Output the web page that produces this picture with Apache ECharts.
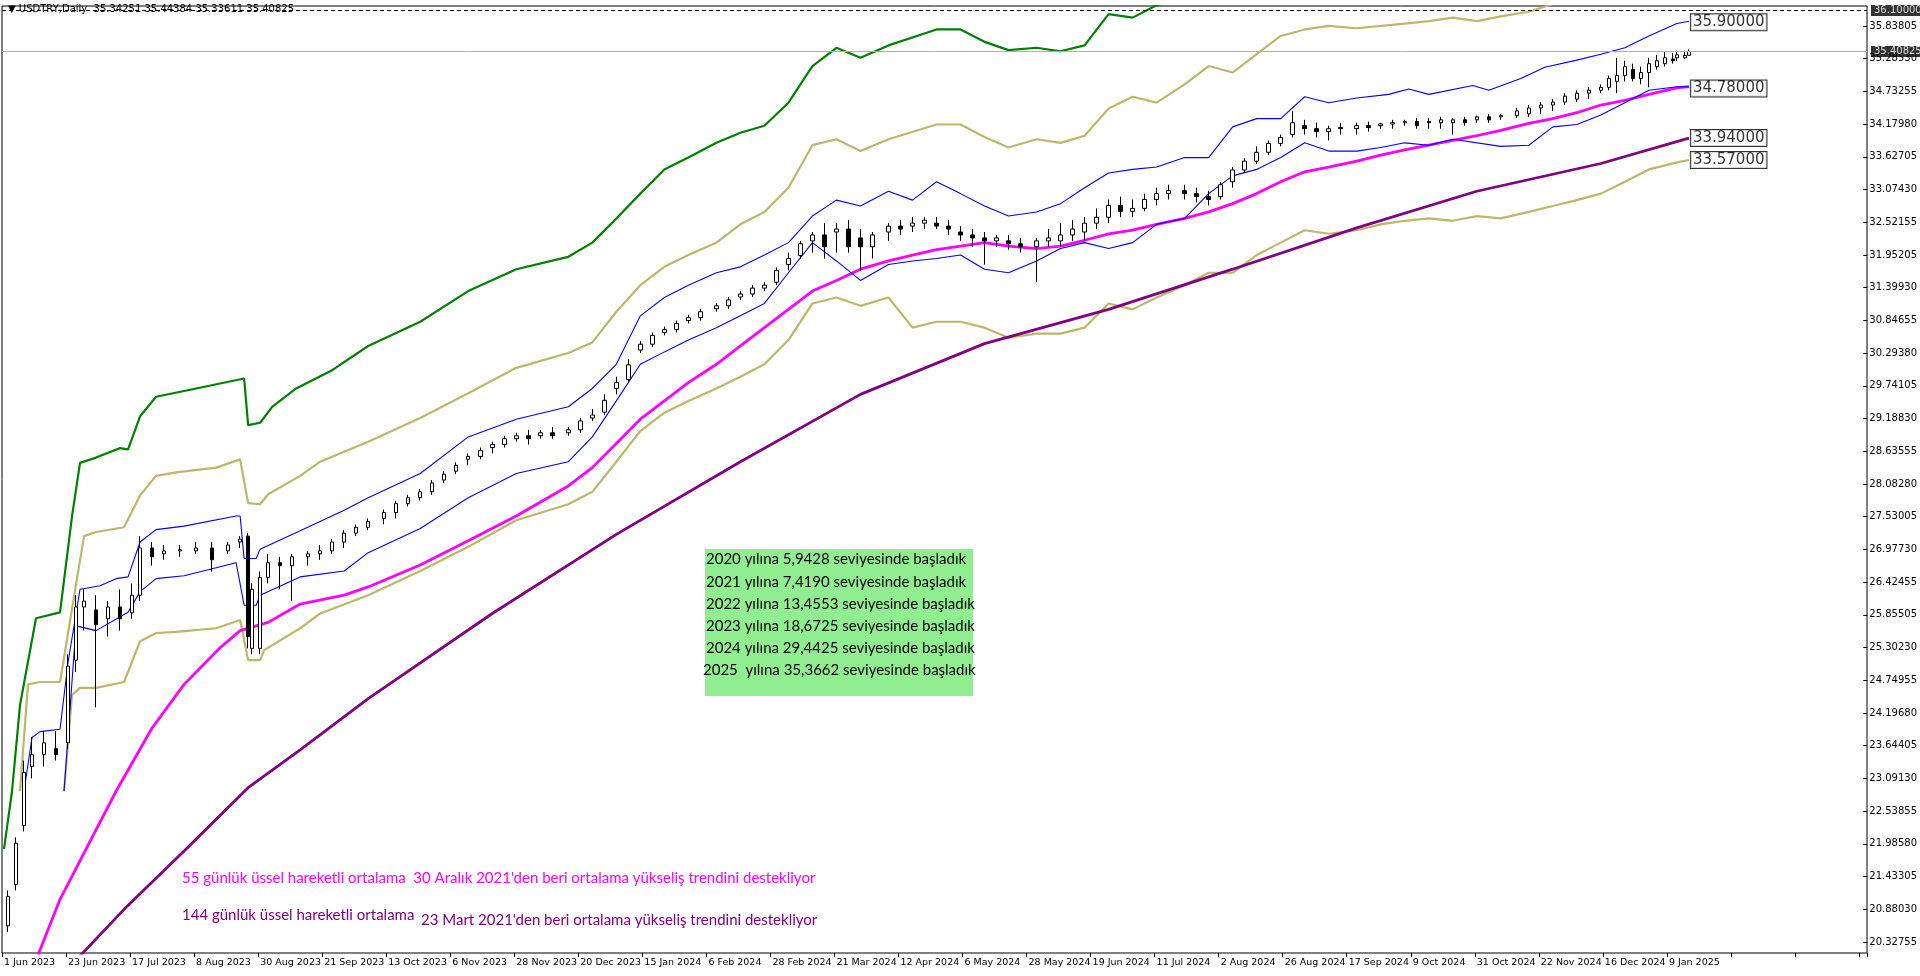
<!DOCTYPE html>
<html><head><meta charset="utf-8">
<script src="https://cdn.jsdelivr.net/npm/echarts@6/dist/echarts.min.js"></script>
<style>html,body{margin:0;padding:0;background:#fff}#c{width:1920px;height:976px}</style>
</head><body><div id="c"></div>
<script>
const xLabels=['1 Jun 2023','23 Jun 2023','17 Jul 2023','8 Aug 2023','30 Aug 2023','21 Sep 2023','13 Oct 2023','6 Nov 2023','28 Nov 2023','20 Dec 2023','15 Jan 2024','6 Feb 2024','28 Feb 2024','21 Mar 2024','12 Apr 2024','6 May 2024','28 May 2024','19 Jun 2024','11 Jul 2024','2 Aug 2024','26 Aug 2024','17 Sep 2024','9 Oct 2024','31 Oct 2024','22 Nov 2024','16 Dec 2024','9 Jan 2025'];
const yTickLabels=['20.32755','20.88030','21.43305','21.98580','22.53855','23.09130','23.64405','24.19680','24.74955','25.30230','25.85505','26.42455','26.97730','27.53005','28.08280','28.63555','29.18830','29.74105','30.29380','30.84655','31.39930','31.95205','32.52155','33.07430','33.62705','34.17980','34.73255','35.28530','35.83805'];
const nBars=466;
// candles: index, open, high, low, close
const candles=[
[1,20.6,21.2,20.5,21.1],[3,21.3,22.1,21.2,22.0],[5,22.3,23.4,22.2,23.2],[7,23.3,23.8,23.1,23.5],[10,23.5,23.9,23.3,23.7],[13,23.6,23.9,23.4,23.5],
[16,23.7,25.2,23.6,25.0],[18,25.1,26.2,24.9,26.0],[20,26.0,26.3,25.6,26.1],[23,25.95,26.2,24.3,25.7],[26,25.8,26.1,25.5,26.0],[29,26.0,26.3,25.6,25.8],
[32,25.9,26.4,25.8,26.2],[34,26.2,27.2,26.1,27.0],[37,27.0,27.1,26.7,26.85],[40,26.9,27.05,26.8,26.95],[44,26.95,27.05,26.85,26.97],[48,26.95,27.1,26.9,27.0],
[52,27.0,27.1,26.6,26.8],[56,26.95,27.1,26.9,27.05],[59,27.1,27.2,27.0,27.15],[61,27.2,27.25,25.3,25.5],[62,25.3,26.4,25.2,26.3],[64,25.3,26.6,25.2,26.5],
[66,26.5,26.9,26.4,26.75],[69,26.75,26.85,26.3,26.7],[72,26.7,26.9,26.1,26.85],[76,26.85,26.95,26.7,26.9],[79,26.9,27.05,26.8,26.95],[82,26.95,27.15,26.9,27.1],[85,27.1,27.3,27.0,27.25],
[88,27.25,27.4,27.2,27.35],[91,27.35,27.5,27.3,27.45],[95,27.5,27.65,27.4,27.6],[98,27.6,27.8,27.5,27.75],[101,27.75,27.9,27.7,27.85],[104,27.85,28.0,27.8,27.95],[107,27.95,28.15,27.9,28.1],[110,28.15,28.3,28.1,28.25],[113,28.3,28.45,28.25,28.4],[116,28.5,28.6,28.4,28.55],[119,28.55,28.7,28.5,28.65],[122,28.7,28.8,28.6,28.75],
[125,28.75,28.9,28.7,28.85],[128,28.85,28.95,28.8,28.9],[131,28.9,29.0,28.75,28.85],[134,28.9,29.0,28.85,28.95],[137,28.95,29.05,28.85,28.9],[141,28.95,29.05,28.9,29.0],[144,29.0,29.2,28.95,29.15],[147,29.2,29.35,29.15,29.25],[150,29.3,29.6,29.25,29.5],[153,29.7,29.9,29.6,29.8],[156,29.85,30.2,29.8,30.1],[159,30.35,30.5,30.3,30.45],
[162,30.45,30.65,30.4,30.6],[165,30.65,30.75,30.6,30.7],[168,30.7,30.85,30.65,30.8],[171,30.85,30.95,30.8,30.9],[174,30.9,31.05,30.85,31.0],[178,31.05,31.15,31.0,31.1],[181,31.1,31.25,31.05,31.2],[184,31.25,31.35,31.2,31.3],[187,31.3,31.45,31.25,31.4],[190,31.4,31.5,31.35,31.45],[193,31.5,31.75,31.45,31.7],[196,31.8,32.0,31.7,31.9],[199,31.95,32.2,31.9,32.15],
[202,32.2,32.35,32.0,32.3],[205,32.3,32.5,31.9,32.1],[208,32.35,32.5,32.0,32.4],[211,32.4,32.55,32.0,32.1],[214,32.25,32.4,31.7,32.1],[217,32.1,32.35,31.9,32.3],[221,32.35,32.5,32.2,32.45],
[224,32.45,32.55,32.3,32.4],[227,32.45,32.6,32.35,32.5],[230,32.5,32.6,32.4,32.55],[233,32.5,32.6,32.4,32.45],[236,32.45,32.55,32.3,32.4],[239,32.35,32.45,32.2,32.3],[242,32.3,32.4,32.1,32.25],[245,32.25,32.35,31.8,32.2],[248,32.2,32.3,32.1,32.25],[251,32.2,32.3,32.05,32.15],[254,32.15,32.25,32.0,32.1],[258,32.1,32.25,31.5,32.2],
[261,32.2,32.4,32.1,32.25],[264,32.2,32.5,32.1,32.3],[267,32.3,32.55,32.2,32.4],[270,32.35,32.6,32.2,32.5],[273,32.5,32.75,32.4,32.6],[276,32.6,32.9,32.5,32.8],[279,32.8,32.95,32.6,32.7],[282,32.7,32.9,32.6,32.75],[285,32.75,33.0,32.7,32.9],[288,32.9,33.1,32.8,33.0],[291,33.0,33.15,32.9,33.05],[295,33.05,33.15,32.9,33.0],
[298,33.0,33.1,32.85,32.95],[301,32.95,33.05,32.8,32.9],[304,32.95,33.2,32.9,33.15],[307,33.2,33.45,33.1,33.4],[310,33.4,33.6,33.35,33.55],[313,33.55,33.8,33.5,33.7],[316,33.7,33.9,33.65,33.85],[319,33.85,34.0,33.8,33.95],[322,34.0,34.4,33.95,34.2],[325,34.15,34.25,34.0,34.1],
[328,34.1,34.2,33.95,34.05],[331,34.05,34.15,33.9,34.1],[334,34.1,34.2,34.0,34.12],[338,34.1,34.2,34.0,34.15],[341,34.15,34.22,34.05,34.12],[344,34.15,34.2,34.1,34.18],[347,34.18,34.25,34.1,34.2],[350,34.2,34.25,34.15,34.22],[353,34.22,34.28,34.1,34.15],[356,34.22,34.28,34.1,34.2],[359,34.2,34.3,34.1,34.25],[362,34.2,34.28,34.0,34.25],
[365,34.25,34.3,34.15,34.2],[368,34.25,34.32,34.2,34.3],[371,34.3,34.35,34.2,34.25],[374,34.3,34.35,34.25,34.32],[378,34.32,34.45,34.28,34.4],[381,34.35,34.5,34.3,34.45],[384,34.45,34.55,34.35,34.5],[387,34.5,34.6,34.4,34.55],[390,34.55,34.7,34.5,34.65],[393,34.6,34.75,34.55,34.7],[396,34.7,34.8,34.6,34.75],[399,34.75,34.85,34.7,34.8],
[401,34.8,35.0,34.75,34.95],[403,34.9,35.3,34.7,35.0],[405,35.0,35.25,34.9,35.15],[407,35.1,35.2,34.9,34.95],[409,34.95,35.15,34.85,35.05],[411,35.05,35.3,34.8,35.2],[413,35.15,35.35,35.1,35.25],[415,35.2,35.4,35.15,35.3],[417,35.28,35.38,35.2,35.25],[418,35.3,35.42,35.25,35.35],[420,35.3,35.42,35.28,35.34],[421,35.34251,35.44384,35.33611,35.40825]];
const greenLine=[[0,21.9],[2,22.88],[4,24.34],[8,25.81],[14,25.91],[17,27.54],[19,28.44],[23,28.53],[29,28.69],[31,28.67],[34,29.23],[38,29.56],[48,29.70],[60,29.87],[61,29.08],[64,29.12],[67,29.39],[73,29.70],[82,30.01],[91,30.42],[104,30.83],[116,31.35],[128,31.72],[141,31.93],[147,32.17],[153,32.58],[159,33.00],[165,33.41],[171,33.61],[178,33.86],[184,34.03],[190,34.15],[196,34.54],[202,35.16],[208,35.47],[214,35.30],[221,35.51],[233,35.78],[239,35.78],[245,35.57],[251,35.43],[258,35.47],[264,35.41],[270,35.51],[276,36.04],[282,35.98],[288,36.19],[295,36.29],[301,36.40]];
const khakiUpper=[[4,22.88],[6,24.69],[9,24.73],[14,24.73],[17,25.97],[20,27.20],[23,27.27],[30,27.35],[34,27.89],[38,28.22],[43,28.28],[53,28.36],[59,28.50],[61,27.76],[64,27.74],[66,27.91],[74,28.22],[79,28.46],[91,28.80],[104,29.20],[116,29.62],[128,30.05],[141,30.30],[147,30.48],[153,31.00],[159,31.45],[165,31.76],[171,31.96],[178,32.17],[184,32.48],[190,32.69],[196,33.10],[202,33.82],[208,33.92],[214,33.72],[221,33.92],[233,34.17],[239,34.17],[245,33.96],[251,33.78],[258,33.92],[264,33.86],[270,33.98],[276,34.44],[282,34.64],[288,34.54],[295,34.85],[301,35.16],[307,35.05],[313,35.36],[319,35.67],[325,35.78],[331,35.84],[338,35.80],[350,35.88],[356,35.92],[362,35.98],[368,35.92],[374,36.00],[381,36.08],[387,36.21],[393,36.33]];
const khakiLower=[[15,22.88],[17,24.51],[19,24.63],[23,24.63],[30,24.73],[34,25.42],[38,25.56],[43,25.58],[53,25.64],[59,25.78],[61,25.10],[64,25.10],[65,25.27],[74,25.64],[79,25.89],[91,26.20],[104,26.61],[116,27.02],[128,27.47],[141,27.74],[147,27.95],[153,28.46],[159,28.98],[165,29.29],[171,29.49],[178,29.70],[184,29.90],[190,30.11],[196,30.52],[202,31.14],[208,31.24],[214,31.10],[221,31.24],[227,30.73],[233,30.83],[239,30.83],[245,30.73],[251,30.56],[258,30.63],[264,30.63],[270,30.73],[276,31.14],[282,31.04],[288,31.24],[295,31.45],[301,31.66],[307,31.66],[313,31.96],[319,32.17],[325,32.38],[331,32.32],[338,32.38],[344,32.48],[350,32.54],[356,32.58],[362,32.54],[368,32.62],[374,32.58],[381,32.69],[387,32.79],[393,32.89],[399,33.00],[405,33.20],[411,33.41],[418,33.53],[421,33.57]];
const blueUpper=[[5,22.88],[7,23.79],[9,23.89],[14,23.93],[16,25.06],[19,26.30],[24,26.36],[28,26.48],[31,26.51],[34,27.10],[38,27.31],[45,27.37],[58,27.54],[59,27.54],[60,26.82],[63,26.82],[64,26.98],[74,27.29],[85,27.64],[91,27.85],[104,28.26],[116,28.88],[128,29.18],[141,29.39],[147,29.70],[153,30.11],[159,30.93],[165,31.24],[171,31.45],[178,31.66],[184,31.76],[190,31.96],[196,32.17],[202,32.62],[208,32.89],[214,32.79],[221,33.04],[227,32.89],[233,33.20],[239,33.00],[245,32.79],[251,32.62],[258,32.69],[264,32.83],[270,33.10],[276,33.35],[282,33.41],[288,33.45],[295,33.61],[301,33.61],[307,34.13],[313,34.27],[319,34.27],[325,34.64],[331,34.54],[338,34.62],[346,34.68],[351,34.77],[356,34.68],[367,34.83],[371,34.75],[379,34.95],[385,35.14],[393,35.26],[399,35.36],[405,35.47],[411,35.67],[418,35.88],[421,35.92]];
const blueLower=[[15,22.88],[18,25.68],[23,25.60],[31,25.91],[34,26.26],[38,26.48],[45,26.53],[58,26.75],[60,26.03],[63,26.03],[64,26.20],[74,26.51],[85,26.61],[91,26.92],[104,27.33],[116,27.85],[128,28.26],[141,28.46],[147,28.88],[153,29.49],[159,30.11],[165,30.32],[171,30.52],[178,30.73],[184,30.93],[190,31.14],[196,31.66],[202,32.17],[208,31.86],[214,31.53],[221,31.80],[227,31.86],[233,31.90],[239,31.96],[245,31.72],[251,31.66],[258,31.86],[264,32.07],[270,32.17],[276,32.07],[282,32.17],[288,32.48],[295,32.58],[301,33.00],[307,33.30],[313,33.41],[319,33.61],[325,33.86],[331,33.72],[338,33.72],[344,33.78],[350,33.86],[356,33.82],[362,33.92],[374,33.80],[381,33.82],[387,34.13],[393,34.17],[399,34.33],[405,34.54],[411,34.75],[418,34.81],[421,34.81]];
const ema55=[[8,20.02],[14,21.05],[28,22.88],[37,23.95],[45,24.69],[54,25.31],[59,25.60],[66,25.74],[74,26.05],[85,26.20],[91,26.34],[104,26.71],[116,27.12],[128,27.54],[141,28.05],[147,28.36],[153,28.77],[159,29.18],[165,29.49],[171,29.80],[178,30.11],[184,30.42],[190,30.73],[196,31.04],[202,31.35],[208,31.53],[214,31.72],[221,31.86],[227,31.96],[233,32.05],[239,32.11],[245,32.17],[251,32.11],[258,32.07],[264,32.11],[270,32.21],[276,32.32],[282,32.38],[288,32.48],[295,32.58],[301,32.69],[307,32.83],[313,33.00],[319,33.20],[325,33.37],[331,33.45],[338,33.55],[344,33.65],[350,33.74],[356,33.82],[362,33.90],[368,33.98],[374,34.07],[381,34.19],[387,34.27],[393,34.37],[399,34.50],[405,34.58],[411,34.68],[418,34.79],[421,34.81]];
const ema144=[[18,20.02],[30,20.88],[45,21.87],[61,22.94],[74,23.58],[91,24.45],[122,25.89],[153,27.23],[184,28.46],[214,29.60],[245,30.46],[276,31.04],[307,31.72],[338,32.42],[368,33.04],[399,33.51],[421,33.94]];
const levelMarks=[35.90,34.78,33.94,33.57];
const lastIdx=421, bidPrice=35.40825, topLevel=36.10;
const titleText='USDTRY,Daily  35.34251 35.44384 35.33611 35.40825';
const boxLines=['2020 yılına 5,9428 seviyesinde başladık','2021 yılına 7,4190 seviyesinde başladık','2022 yılına 13,4553 seviyesinde başladık','2023 yılına 18,6725 seviyesinde başladık','2024 yılına 29,4425 seviyesinde başladık','2025  yılına 35,3662 seviyesinde başladık'];
const note55='55 günlük üssel hareketli ortalama  30 Aralık 2021\'den beri ortalama yükseliş trendini destekliyor';
const note144a='144 günlük üssel hareketli ortalama', note144b='23 Mart 2021\'den beri ortalama yükseliş trendini destekliyor';

const cats=[];for(let i=0;i<nBars;i++)cats.push(String(i));
const F='DejaVu Sans';
const yMin0=20.32755,yMax0=35.83805,yStep=(yMax0-yMin0)/(yTickLabels.length-1);
function ln(data,color,w){return {type:'line',data:data,showSymbol:false,symbol:'none',lineStyle:{color:color,width:w},z:3,animation:false,silent:true};}
const chart=echarts.init(document.getElementById('c'),null,{renderer:'canvas'});
chart.setOption({
 animation:false,backgroundColor:'#fff',
 grid:[{left:2,right:53,top:6,bottom:23,show:true,borderColor:'#000',borderWidth:1},
       {left:2,right:53,top:26,bottom:34,show:false}],
 xAxis:[{type:'category',data:cats,gridIndex:0,boundaryGap:true,
   axisLine:{show:false},
   axisTick:{show:true,interval:i=>i%16===0,length:4,lineStyle:{color:'#000'}},
   axisLabel:{interval:i=>i%16===0,formatter:(v,i)=>xLabels[i/16]||'',align:'left',color:'#000',fontFamily:F,fontSize:9.5,margin:5,hideOverlap:false},
   splitLine:{show:false}},
  {type:'category',data:cats,gridIndex:1,show:false}],
 yAxis:[{type:'value',gridIndex:0,min:20.141,max:36.177,show:false,splitLine:{show:false}},
  {type:'value',gridIndex:1,position:'right',min:yMin0,max:yMax0,interval:yStep,
   axisLine:{show:false},axisTick:{show:true,length:4,inside:false,lineStyle:{color:'#000'}},
   axisLabel:{formatter:(v)=>yTickLabels[Math.round((v-yMin0)/yStep)]||'',color:'#000',fontFamily:F,fontSize:10,margin:6},
   splitLine:{show:false}}],
 series:[
  ln(greenLine,'#008000',2.2),
  ln(khakiUpper,'#BDB76B',2.2),
  ln(khakiLower,'#BDB76B',2.2),
  ln(ema144,'#800080',2.8),
  ln(ema55,'#FF00FF',2.8),
  ln(blueUpper,'#0000FF',1.1),
  ln(blueLower,'#0000FF',1.1),
  {type:'candlestick',data:candles.map(c=>[c[0],c[1],c[4],c[3],c[2]]),encode:{x:0,y:[1,2,3,4]},barWidth:4,z:4,
   itemStyle:{color:'#fff',color0:'#000',borderColor:'#000',borderColor0:'#000',borderWidth:1},
   markLine:{symbol:'none',silent:true,label:{show:false},
     data:[{yAxis:topLevel,lineStyle:{color:'#000',type:[4,3],width:1}},{yAxis:bidPrice,lineStyle:{color:'#b0b0b0',type:'solid',width:1}}]}},
  {type:'scatter',data:levelMarks.map(v=>[lastIdx,v]),symbolSize:0,z:6,
   label:{show:true,position:'right',distance:2,formatter:p=>p.value[1].toFixed(5),color:'#000',fontFamily:F,fontSize:15,
     backgroundColor:'#fff',borderColor:'#000',borderWidth:1,padding:[1,2,0,2]}},
  {type:'scatter',xAxisIndex:0,yAxisIndex:0,data:[[nBars-1,topLevel],[nBars-1,bidPrice]],symbolSize:0,z:7,
   label:{show:true,position:'right',distance:6,formatter:p=>p.value[1].toFixed(5),color:'#fff',backgroundColor:'#000',fontFamily:F,fontSize:10,padding:[1,3,0,3]}}
 ],
 graphic:[
  {type:'text',left:8,top:4,style:{text:'▼ '+titleText,fill:'#000',font:'10px "DejaVu Sans"'}},
  {type:'rect',shape:{x:705,y:549,width:268,height:147},style:{fill:'#90EE90'},z:10},
  ...boxLines.map((t,k)=>({type:'text',x:(k===5?703:706),y:552+k*22.2,z:11,style:{text:t,fill:'#000',font:'15px Lato'}})),
  {type:'text',x:182,y:871,z:11,style:{text:note55,fill:'#FF00FF',font:'15px Lato'}},
  {type:'text',x:182,y:908,z:11,style:{text:note144a,fill:'#800080',font:'15px Lato'}},
  {type:'text',x:421,y:913,z:11,style:{text:note144b,fill:'#800080',font:'15px Lato'}}
 ]
});
</script></body></html>
